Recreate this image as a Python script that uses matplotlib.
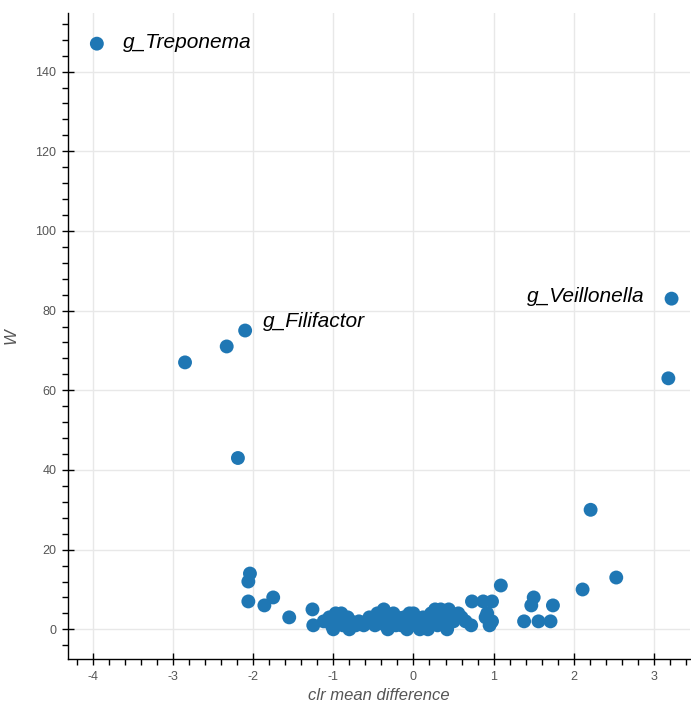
import matplotlib
matplotlib.use("Agg")
import matplotlib.pyplot as plt
from matplotlib.ticker import MultipleLocator

plt.rcParams["axes.unicode_minus"] = False

# clr mean difference (x) and W statistic (y) for each taxon
clr_diff = [
    -3.95, -2.85, -2.33, -2.10, -2.19, 3.22, 3.18, 2.21, 2.53, 2.11,
    1.09, 1.50, 1.47, 1.74, 1.38, 1.56, 1.71,
    -2.04, -2.06, -2.06, -1.86, -1.75, -1.55, -1.26, -1.25,
    0.73, 0.87, 0.98, 0.92, 0.90, 0.72, 0.95, 0.98,
    -1.12, -1.05, -1.02, -1.00, -0.97, -0.95, -0.92, -0.90, -0.88, -0.85,
    -0.82, -0.80, -0.78, -0.72, -0.68, -0.62, -0.58, -0.55, -0.50, -0.48,
    -0.45, -0.42, -0.40, -0.37, -0.35, -0.32, -0.30, -0.28, -0.25, -0.22,
    -0.20, -0.18, -0.15, -0.12, -0.10, -0.08, -0.05, -0.03, 0.00, 0.02,
    0.03, 0.05, 0.08, 0.10, 0.12, 0.15, 0.18, 0.20, 0.22, 0.25,
    0.27, 0.30, 0.32, 0.34, 0.37, 0.40, 0.42, 0.44, 0.47, 0.50,
    0.52, 0.56, 0.60, 0.65,
]
w_stat = [
    147, 67, 71, 75, 43, 83, 63, 30, 13, 10,
    11, 8, 6, 6, 2, 2, 2,
    14, 12, 7, 6, 8, 3, 5, 1,
    7, 7, 7, 4, 3, 1, 1, 2,
    2, 3, 1, 0, 4, 2, 3, 4, 1, 2,
    3, 0, 2, 1, 2, 1, 2, 3, 2, 1,
    4, 3, 2, 5, 1, 0, 3, 2, 4, 1,
    3, 2, 1, 3, 2, 0, 4, 1, 4, 2,
    3, 1, 0, 2, 3, 1, 0, 2, 4, 3,
    5, 1, 4, 5, 2, 3, 0, 5, 4, 2,
    3, 4, 3, 2,
]

# highlighted taxa
labels = ["g_Treponema", "g_Filifactor", "g_Veillonella"]
label_x = [-3.95, -2.10, 3.22]
label_y = [147, 75, 83]

fig = plt.figure(figsize=(6.91, 7.06), dpi=100)
ax = fig.add_axes([68 / 691, 47 / 706, (690 - 68) / 691, (659 - 13) / 706])

ax.scatter(clr_diff, w_stat, s=100, color="#1f77b4", edgecolors="none", zorder=3)

offsets = [(26, -4), (18, 4), (-27, -3)]
aligns = ["left", "left", "right"]
for name, lx, ly, off, ha in zip(labels, label_x, label_y, offsets, aligns):
    ax.annotate(name, xy=(lx, ly), xytext=off, textcoords="offset pixels",
                ha=ha, va="baseline", fontsize=15, style="italic",
                family="Liberation Sans", color="black", zorder=4)

ax.set_xlim(-4.31, 3.45)
ax.set_ylim(-7.45, 154.7)

ax.xaxis.set_major_locator(MultipleLocator(1))
ax.xaxis.set_minor_locator(MultipleLocator(0.2))
ax.yaxis.set_major_locator(MultipleLocator(20))
ax.yaxis.set_minor_locator(MultipleLocator(4))

ax.grid(True, which="major", color="#e8e8e8", linewidth=1, zorder=0)
ax.set_axisbelow(True)

for side in ("top", "right"):
    ax.spines[side].set_visible(False)
for side in ("left", "bottom"):
    ax.spines[side].set_color("black")
    ax.spines[side].set_linewidth(1)

ax.tick_params(which="major", direction="inout", length=9, width=1, color="black",
               labelsize=9, labelcolor="#555555", pad=4)
ax.tick_params(which="minor", direction="out", length=4, width=1, color="black")
for lab in ax.get_xticklabels() + ax.get_yticklabels():
    lab.set_family("Liberation Sans")

ax.set_xlabel("clr mean difference", fontsize=12, style="italic",
              family="Liberation Sans", color="#555555", labelpad=4)
ax.set_ylabel("W", fontsize=12, style="italic", family="Liberation Sans",
              color="#555555", labelpad=12)

fig.savefig("out.png", dpi=100)
